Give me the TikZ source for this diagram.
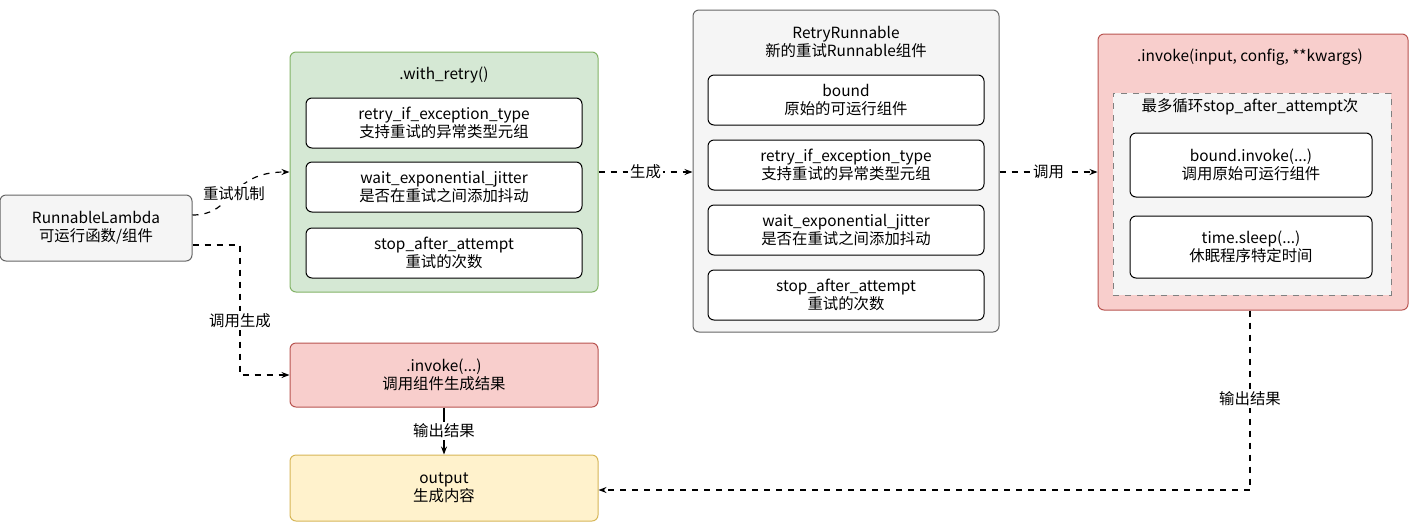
\documentclass[tikz,border=0pt]{standalone}
\usepackage{fontspec}
\setmainfont{Noto Sans CJK SC}
\usetikzlibrary{arrows.meta}
\begin{document}
\begin{tikzpicture}[x=0.5pt,y=-0.5pt,font=\fontsize{7.7pt}{9.2pt}\selectfont,
 box/.style={draw=#1,rounded corners=3pt,line width=0.5pt},
 inner/.style={draw=black,fill=white,rounded corners=3pt,line width=0.5pt,align=center},
 lbl/.style={fill=white,inner sep=1pt,align=center},
 dsh/.style={dashed,line width=0.6pt,-{Stealth[length=4pt]}}]
\definecolor{gf}{HTML}{D5E8D4}\definecolor{gd}{HTML}{82B366}
\definecolor{rf}{HTML}{F8CECC}\definecolor{rd}{HTML}{B85450}
\definecolor{yf}{HTML}{FFF2CC}\definecolor{yd}{HTML}{D6B656}
\definecolor{af}{HTML}{F5F5F5}\definecolor{ad}{HTML}{666666}
\useasboundingbox (0,0) rectangle (1416,531);
% Lambda
\node[box=ad,fill=af,minimum width=96pt,minimum height=33pt,align=center] (lam) at (96,228) {RunnableLambda\\可运行函数/组件};
% with_retry
\node[box=gd,fill=gf,minimum width=154pt,minimum height=120pt] (wr) at (444,172) {};
\node (wrt) at (444,75) {.with\_retry()};
\foreach \n/\y/\a/\b in {w1/123/retry\_if\_exception\_type/支持重试的异常类型元组,w2/187/wait\_exponential\_jitter/是否在重试之间添加抖动,w3/253/stop\_after\_attempt/重试的次数}
 \node[inner,minimum width=138pt,minimum height=25pt] (\n) at (444,\y) {\a\\\b};
% invoke
\node[box=rd,fill=rf,minimum width=154pt,minimum height=32pt,align=center] (inv) at (444,375) {.invoke(...)\\调用组件生成结果};
\node[box=yd,fill=yf,minimum width=154pt,minimum height=33pt,align=center] (out) at (444,488) {output\\生成内容};
% RetryRunnable
\node[box=ad,fill=af,minimum width=153pt,minimum height=161pt] (rr) at (846,171) {};
\node[align=center] (rrt) at (846,42) {RetryRunnable\\新的重试Runnable组件};
\foreach \n/\y/\a/\b in {r1/100/bound/原始的可运行组件,r2/165/retry\_if\_exception\_type/支持重试的异常类型元组,r3/230/wait\_exponential\_jitter/是否在重试之间添加抖动,r4/295/stop\_after\_attempt/重试的次数}
 \node[inner,minimum width=138pt,minimum height=25pt] (\n) at (846,\y) {\a\\\b};
% invoke big
\node[box=rd,fill=rf,minimum width=155pt,minimum height=138pt] (ib) at (1253,172) {};
\node (ibt) at (1250,57) {.invoke(input, config, **kwargs)};
\node[draw=gray,dashed,fill=af,minimum width=139pt,minimum height=101pt] (lp) at (1252,194) {};
\node (lpt) at (1250,107) {最多循环stop\_after\_attempt次};
\node[inner,minimum width=121pt,minimum height=32pt] (b1) at (1251,165) {bound.invoke(...)\\调用原始可运行组件};
\node[inner,minimum width=121pt,minimum height=31pt] (b2) at (1251,247) {time.sleep(...)\\休眠程序特定时间};
% connectors
\coordinate (c1) at (232,215);
\draw[dsh] (lam.east|-c1) .. controls (235,215) and (228,172) .. (wr.west|-0,172) node[pos=0.5,lbl] {重试机制};
\draw[dsh] (lam.east|-0,245) -- (240,245) -- (240,375) node[pos=0.58,lbl] {调用生成} -- (inv.west);
\draw[dsh] (wr.east|-0,172) -- node[lbl] {生成} (rr.west|-0,172);
\draw[dsh] (rr.east|-0,172) -- node[lbl] {调用} (ib.west|-0,172);
\draw[dsh] (ib.south-|1250,0) -- (1250,490) node[pos=0.49,lbl] {输出结果} -- (out.east|-0,490);
\draw[line width=0.6pt,-{Stealth[length=4pt]}] (inv) -- node[lbl] {输出结果} (out);
\end{tikzpicture}
\end{document}
